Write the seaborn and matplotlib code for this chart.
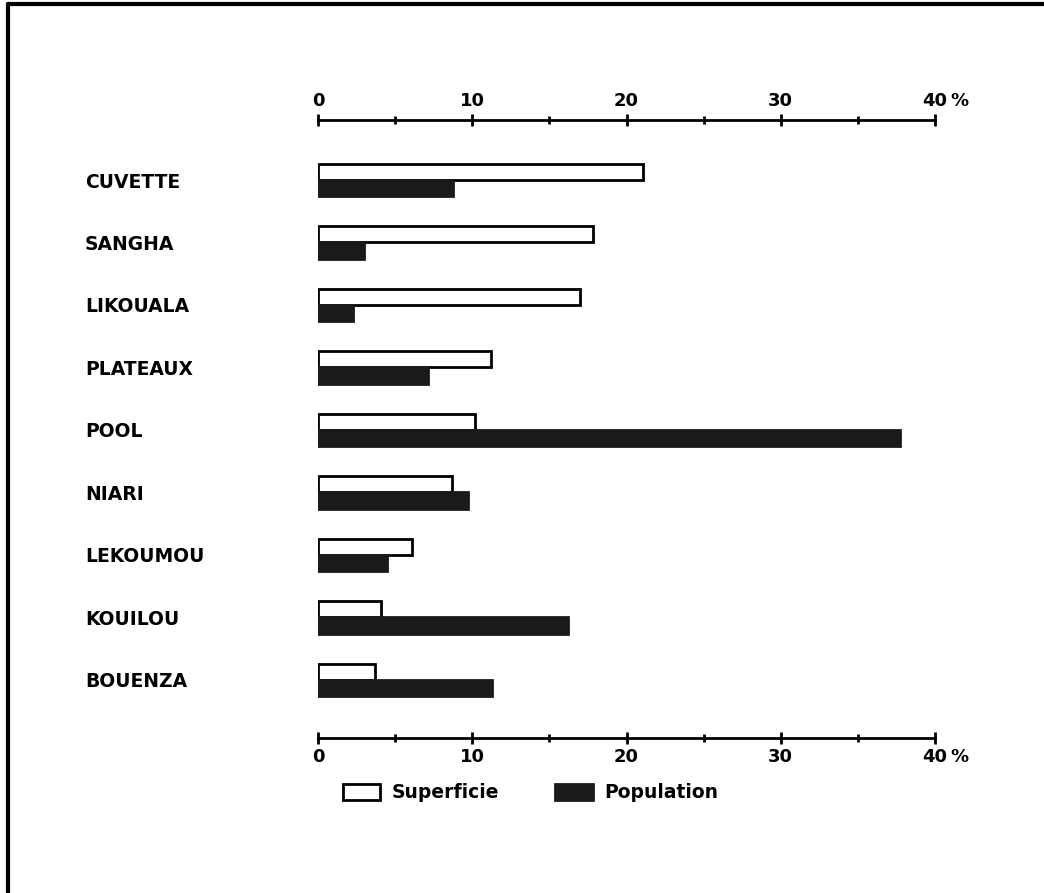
import matplotlib
matplotlib.use("Agg")
import matplotlib.pyplot as plt
import matplotlib.transforms as mtransforms
from matplotlib.lines import Line2D
import seaborn as sns
import pandas as pd
from matplotlib.ticker import MultipleLocator

regions = ["CUVETTE", "SANGHA", "LIKOUALA", "PLATEAUX", "POOL", "NIARI",
           "LEKOUMOU", "KOUILOU", "BOUENZA"]
superficie = [21.1, 17.8, 17.0, 11.2, 10.2, 8.7, 6.1, 4.1, 3.7]
population = [8.75, 3.0, 2.3, 7.1, 37.7, 9.7, 4.5, 16.2, 11.3]
series = ["Superficie", "Population"]
xticks = [0, 10, 20, 30, 40]

df = pd.DataFrame({
    "region": regions * 2,
    "value": superficie + population,
    "serie": [series[0]] * len(regions) + [series[1]] * len(regions),
})

sns.set_style("white")
plt.rcParams["font.family"] = ["DejaVu Sans"]
plt.rcParams["font.weight"] = "bold"
plt.rcParams["text.color"] = "black"
plt.rcParams["xtick.color"] = "black"
plt.rcParams["ytick.color"] = "black"

fig = plt.figure(figsize=(10.44, 8.93), dpi=100)
ax = fig.add_axes([0.3046, 0.1736, 0.591, 0.692])

sns.barplot(data=df, y="region", x="value", hue="serie", orient="h",
            palette={"Superficie": "white", "Population": "#1a1a1a"},
            edgecolor="black", linewidth=2, width=0.52, ax=ax,
            order=regions, hue_order=series, legend=True)

for p in ax.patches:
    if p.get_facecolor()[0] < 0.5:
        p.set_hatch("....")
        p.set_edgecolor("#1a1a1a")

ax.set_xlim(0, 40)
ax.set_ylim(8.93, -0.96)
ax.set_xticks(xticks)
ax.xaxis.set_minor_locator(MultipleLocator(5))
ax.set_xlabel("")
ax.set_ylabel("")
ax.tick_params(axis="x", which="both", top=True, bottom=True,
               labeltop=True, labelbottom=True, direction="inout",
               labelsize=13, width=2, labelcolor="black")
ax.tick_params(axis="x", which="major", length=8)
ax.tick_params(axis="x", which="minor", length=6)
ax.tick_params(axis="y", length=0, pad=167.8, labelsize=13.5,
               labelcolor="black")
for t in ax.get_yticklabels():
    t.set_ha("left")
    t.set_fontweight("bold")
for t in ax.get_xticklabels():
    t.set_fontweight("bold")

for s in ["left", "right"]:
    ax.spines[s].set_visible(False)
for s in ["top", "bottom"]:
    ax.spines[s].set_linewidth(2)
    ax.spines[s].set_color("black")

leg = ax.legend(loc="center", bbox_to_anchor=(0.508, 0.112),
                bbox_transform=fig.transFigure, ncol=2, frameon=False,
                fontsize=13.5, handlelength=2, handleheight=1.0,
                columnspacing=3.0, handletextpad=0.6)
for t in leg.get_texts():
    t.set_fontweight("bold")
    t.set_color("black")

# "%" unit next to the last tick label, top and bottom
fig.canvas.draw()
last_tick = ax.xaxis.get_major_ticks()[-1]
for lab in (last_tick.label1, last_tick.label2):
    tr = mtransforms.offset_copy(lab.get_transform(), fig=fig, x=11,
                                 units="points")
    x, y = lab.get_position()
    ax.text(x, y, "%", transform=tr, va=lab.get_va(), ha="left",
            fontsize=13, fontweight="bold", color="black")

fig.add_artist(Line2D([0.0075, 0.0075], [0.0, 0.996],
                      transform=fig.transFigure, color="black", linewidth=3))
fig.add_artist(Line2D([0.0075, 1.0], [0.995, 0.995],
                      transform=fig.transFigure, color="black", linewidth=3))

fig.savefig("out.png", dpi=100)
